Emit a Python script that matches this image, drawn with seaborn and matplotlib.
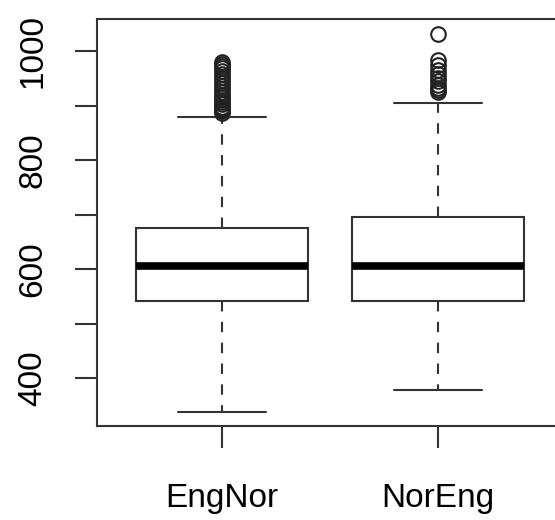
import matplotlib
matplotlib.use("Agg")
import matplotlib.pyplot as plt
import seaborn as sns

# ---- data ----
categories = ["EngNor", "NorEng"]
q1 = [541, 541]
median = [605, 606]
q3 = [676, 695]
whisker_low = [338, 378]
whisker_high = [879, 905]
outliers_engnor = [886, 889, 892, 895, 898, 902, 906, 910, 915, 920, 925, 930,
                   935, 941, 946, 952, 958, 963, 968, 972, 976, 980]
outliers_noreng = [925, 929, 933, 938, 945, 950, 958, 965, 974, 983, 1032]
y_ticks = [400, 500, 600, 700, 800, 900, 1000]
y_labels = ["400", "", "600", "", "800", "", "1000"]

sns.set_style("white")
plt.rcParams["font.family"] = ["Liberation Sans", "DejaVu Sans"]

fig = plt.figure(figsize=(5.55, 5.2), dpi=100)
ax = fig.add_axes([97 / 555, 1 - 426 / 520, (563 - 97) / 555, (426 - 19) / 520])

outs = [outliers_engnor, outliers_noreng]
stats = []
for i, name in enumerate(categories):
    stats.append(dict(label=name, q1=q1[i], med=median[i], q3=q3[i],
                      whislo=whisker_low[i], whishi=whisker_high[i],
                      fliers=outs[i]))

edge = "#333333"
ax.bxp(stats, positions=[1, 2], widths=0.8, showfliers=True,
       patch_artist=True,
       boxprops=dict(facecolor="white", edgecolor=edge, linewidth=1.5),
       medianprops=dict(color="black", linewidth=5.5, solid_capstyle="butt"),
       whiskerprops=dict(color=edge, linewidth=1.5, linestyle=(0, (5, 5))),
       capprops=dict(color=edge, linewidth=1.5),
       capwidths=0.41,
       flierprops=dict(marker="o", markerfacecolor="none", markeredgecolor="#222222",
                       markersize=10.5, markeredgewidth=1.5, linestyle="none"))

ax.set_xlim(0.42, 2.58)
ax.set_ylim(312, 1058.7)
ax.set_yticks(y_ticks)
ax.set_yticklabels(y_labels, rotation=90, va="center")
ax.set_xticks([1, 2])
ax.set_xticklabels(categories)

for s in ax.spines.values():
    s.set_color(edge)
    s.set_linewidth(1.5)
    s.set_visible(True)

ax.tick_params(axis="both", which="both", direction="out", length=16, width=1.5,
               color=edge, labelsize=24, labelcolor="black",
               bottom=True, left=True, top=False, right=False)
ax.tick_params(axis="y", pad=19)
ax.tick_params(axis="x", pad=25)
ax.grid(False)

fig.savefig("out.png", dpi=100)
